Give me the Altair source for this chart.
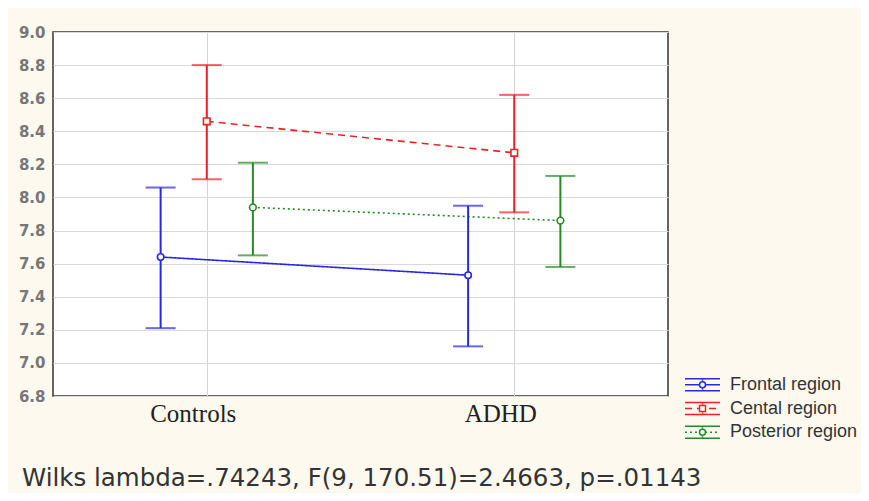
import altair as alt
import pandas as pd

# ---- data ----
groups = ["Controls", "ADHD"]
series = ["Frontal region", "Cental region", "Posterior region"]

frontal_mean = [7.64, 7.53]
frontal_low = [7.21, 7.10]
frontal_high = [8.06, 7.95]

central_mean = [8.46, 8.27]
central_low = [8.11, 7.91]
central_high = [8.80, 8.62]

posterior_mean = [7.94, 7.86]
posterior_low = [7.65, 7.58]
posterior_high = [8.21, 8.13]

y_ticks = [6.8, 7.0, 7.2, 7.4, 7.6, 7.8, 8.0, 8.2, 8.4, 8.6, 8.8, 9.0]
stat_text = ["Wilks lambda=.74243, F(9, 170.51)=2.4663, p=.01143"]

# ---- styling ----
colors = ["#2828e0", "#ec2228", "#248a24"]
dashes = [[1, 0], [7, 5], [2, 3]]
shapes = ["circle", "square", "circle"]
sizes = [42, 45, 26]
dodge = [-0.15, 0.0, 0.15]

means = [frontal_mean, central_mean, posterior_mean]
lows = [frontal_low, central_low, posterior_low]
highs = [frontal_high, central_high, posterior_high]

rows = []
for si, s in enumerate(series):
    for gi, g in enumerate(groups):
        rows.append({
            "series": s,
            "group": g,
            "x": gi + 1 + dodge[si],
            "mean": means[si][gi],
            "low": lows[si][gi],
            "high": highs[si][gi],
        })
df = pd.DataFrame(rows)
leg_df = pd.DataFrame({"series": series})

label_expr = " : ".join(
    [f"datum.value == {i + 1} ? '{g}'" for i, g in enumerate(groups[:-1])] + [f"'{groups[-1]}'"]
)

x_enc = alt.X(
    "x:Q",
    scale=alt.Scale(domain=[0.5, 2.5], nice=False, zero=False),
    axis=alt.Axis(
        values=[1, 2], labelExpr=label_expr, title=None, ticks=False, domain=False,
        grid=True, gridColor="#d4d4d4", labelFont="Liberation Serif", labelFontSize=25,
        labelColor="#222222", labelOffset=-14, labelPadding=5,
    ),
)

y_scale = alt.Scale(domain=[6.8, 9.0], nice=False, zero=False)
y_axis = alt.Axis(
    values=y_ticks, format=".1f", title=None, ticks=False, domain=False, grid=True,
    gridColor="#d9d9d9", labelFont="DejaVu Sans", labelFontSize=15, labelFontWeight="bold",
    labelColor="#777777", labelPadding=8, labelOverlap=False,
)

color_enc = alt.Color("series:N", scale=alt.Scale(domain=series, range=colors), legend=None)
dash_enc = alt.StrokeDash("series:N", scale=alt.Scale(domain=series, range=dashes), legend=None)

base = alt.Chart(df)

lines = base.mark_line(strokeWidth=1.6).encode(
    x=x_enc,
    y=alt.Y("mean:Q", scale=y_scale, axis=y_axis),
    color=color_enc,
    strokeDash=dash_enc,
)

rules = base.mark_rule(strokeWidth=2).encode(
    x=x_enc, y=alt.Y("low:Q", scale=y_scale, axis=y_axis), y2="high:Q", color=color_enc
)

cap_low = base.mark_tick(size=30, thickness=2, orient="horizontal").encode(
    x=x_enc, y=alt.Y("low:Q", scale=y_scale, axis=y_axis), color=color_enc
)
cap_high = base.mark_tick(size=30, thickness=2, orient="horizontal").encode(
    x=x_enc, y=alt.Y("high:Q", scale=y_scale, axis=y_axis), color=color_enc
)

points = base.mark_point(filled=False, fill="white", fillOpacity=1, strokeWidth=1.6, opacity=1).encode(
    x=x_enc,
    y=alt.Y("mean:Q", scale=y_scale, axis=y_axis),
    color=color_enc,
    shape=alt.Shape("series:N", scale=alt.Scale(domain=series, range=shapes), legend=None),
    size=alt.Size("series:N", scale=alt.Scale(domain=series, range=sizes), legend=None),
)

main = alt.layer(lines, rules, cap_low, cap_high, points)

# ---- hand-built legend (glyph: caps, whisker, mean line + marker) ----
leg_y = alt.Y("series:N", scale=alt.Scale(domain=series, range=[341, 412]), axis=None)
leg = alt.Chart(leg_df)
leg_top = leg.mark_rule(strokeWidth=1.5, yOffset=-6).encode(
    x=alt.value(632), x2=alt.value(667), y=leg_y, color=color_enc)
leg_bot = leg.mark_rule(strokeWidth=1.5, yOffset=6).encode(
    x=alt.value(632), x2=alt.value(667), y=leg_y, color=color_enc)
leg_mid = leg.mark_rule(strokeWidth=1.5).encode(
    x=alt.value(632), x2=alt.value(667), y=leg_y, color=color_enc, strokeDash=dash_enc)
leg_vert = leg.mark_tick(orient="vertical", size=12, thickness=1.5).encode(
    x=alt.value(649.5), y=leg_y, color=color_enc)
leg_pt = leg.mark_point(filled=False, fill="white", fillOpacity=1, strokeWidth=1.5).encode(
    x=alt.value(649.5), y=leg_y, color=color_enc,
    shape=alt.Shape("series:N", scale=alt.Scale(domain=series, range=shapes), legend=None),
    size=alt.value(36))
leg_txt = leg.mark_text(align="left", baseline="middle", font="Liberation Sans",
                        fontSize=18, color="#333333").encode(
    x=alt.value(677), y=leg_y, text="series:N")
legend_layer = alt.layer(leg_top, leg_bot, leg_mid, leg_vert, leg_pt, leg_txt)

note = alt.Chart(pd.DataFrame({"t": stat_text})).mark_text(
    align="left", baseline="alphabetic", font="DejaVu Sans", fontSize=24.5, color="#333333"
).encode(x=alt.value(-31), y=alt.value(454), text="t:N")

chart = alt.layer(main, legend_layer, note).resolve_scale(y="independent").properties(
    width=615,
    height=364,
    autosize=alt.AutoSizeParams(type="none"),
    padding={"left": 45, "top": 24, "right": 193, "bottom": 97},
    background="#fdf9ee",
).configure_view(
    stroke="#333333", strokeWidth=1.5, fill="white"
)

chart.save("out.html", embed_options={"renderer": "svg", "actions": False})
